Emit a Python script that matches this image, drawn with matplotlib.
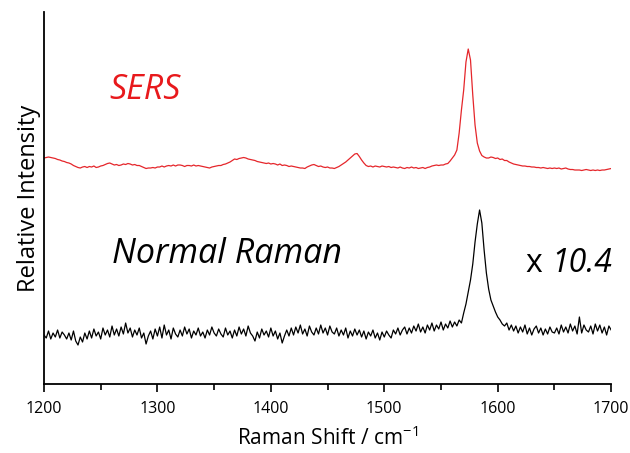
import numpy as np
import matplotlib.pyplot as plt

# Raman shift axis (cm-1), 2 cm-1 steps
shift = np.arange(1200, 1701, 2)

# SERS spectrum (arb. units)
sers = [
    226, 226.5, 227, 226.5, 226, 225.5, 224.5, 224, 223, 222.5,
    221.5, 221, 220, 218.5, 217.5, 216.5, 216, 217, 217.5, 216.5,
    217.5, 217, 218, 216.5, 217, 218, 218.5, 219.5, 220.5, 221,
    220, 219, 219.5, 218.5, 219, 220, 219.5, 220.5, 220, 219,
    219.5, 218.5, 218.5, 217.5, 216.5, 215.5, 216, 216, 216.5, 216,
    217, 217, 218, 217, 218, 218.5, 218, 219, 218, 219,
    219, 218.5, 217.5, 218.5, 218.5, 218, 219, 218, 218.5, 218,
    217.5, 217, 216.5, 216, 217, 217.5, 218, 218.5, 218.5, 219.5,
    220, 221, 222, 223.5, 225, 224.5, 225.5, 226, 226.5, 226,
    225, 224.5, 224, 223.5, 222.5, 222, 221.5, 221, 220.5, 221,
    220, 220.5, 220, 219, 220, 218.5, 219, 218.5, 217.5, 218,
    217.5, 217, 216.5, 216, 216, 215.5, 217, 218, 219, 219.5,
    218.5, 217.5, 218, 217, 216.5, 217, 216, 216, 215.5, 216.5,
    217.5, 219, 220.5, 222, 224, 226, 228, 230, 230.5, 227.5,
    224, 221, 218.5, 217.5, 218, 217, 218, 217.5, 217, 218,
    217.5, 217, 217.5, 216.5, 217, 216.5, 216, 217, 216, 215.5,
    216.5, 216, 217, 216, 216.5, 215.5, 216, 216.5, 215.5, 216.5,
    217, 218, 218.5, 219, 218.5, 219, 219, 220, 220.5, 223,
    226, 229, 234, 251, 274, 294, 322, 335, 324, 289,
    259, 241, 233, 228.5, 227, 226, 226, 227, 226.5, 225.5,
    226, 224.5, 225, 223.5, 223.5, 222, 221, 220, 219.5, 219,
    218.5, 218, 218, 217.5, 217.5, 217, 217, 216.5, 216.5, 216,
    216.5, 216, 215.5, 216, 215.5, 216, 215.5, 216, 215, 215.5,
    216, 215, 214.5, 214.5, 214, 214, 214, 213.5, 214, 214.5,
    214, 213.5, 214, 213.5, 214, 213.5, 214, 214, 214.5, 215,
    215.5,
]

# normal Raman spectrum, multiplied by 10.4 (arb. units)
normal = [
    49, 46, 53, 45, 51, 47, 54, 46, 52, 49,
    45, 51, 44, 53, 43, 39, 47, 42, 51, 45,
    53, 46, 55, 48, 52, 45, 56, 49, 54, 47,
    58, 49, 55, 48, 57, 50, 61, 51, 56, 47,
    54, 49, 56, 46, 51, 40, 48, 53, 45, 55,
    48, 57, 46, 59, 49, 54, 45, 56, 50, 47,
    54, 48, 57, 50, 55, 46, 53, 49, 56, 48,
    52, 46, 54, 49, 57, 51, 48, 55, 50, 47,
    56, 49, 53, 46, 54, 48, 57, 50, 55, 48,
    58, 51, 48, 43, 52, 46, 55, 49, 53, 47,
    56, 48, 53, 45, 51, 41, 48, 54, 48, 56,
    49, 57, 51, 59, 50, 55, 48, 58, 52, 49,
    56, 50, 59, 51, 56, 49, 58, 52, 50, 56,
    48, 54, 49, 56, 46, 53, 48, 55, 49, 54,
    47, 53, 45, 52, 48, 54, 46, 51, 44, 52,
    47, 53, 49, 46, 54, 50, 56, 49, 54, 57,
    50, 56, 51, 58, 53, 60, 52, 57, 51, 59,
    54, 61, 53, 59, 55, 62, 54, 60, 56, 63,
    57, 62, 58, 64, 61, 71, 80, 92, 104, 120,
    142, 160, 174, 161, 134, 111, 95, 84, 78, 72,
    67, 64, 60, 58, 61, 54, 59, 53, 58, 51,
    57, 52, 59, 50, 56, 49, 55, 58, 51, 56,
    49, 55, 50, 57, 52, 51, 56, 50, 59, 52,
    57, 51, 60, 53, 58, 50, 67, 51, 59, 54,
    52, 58, 50, 60, 53, 59, 51, 57, 49, 58,
    54,
]

plt.rcParams['font.family'] = ['Open Sans', 'DejaVu Sans']

fig = plt.figure(figsize=(6.3, 4.53), dpi=100)
ax = fig.add_axes([0.0698, 0.1523, 0.9003, 0.8212])

ax.plot(shift, sers, color='#e5262b', lw=0.9)
ax.plot(shift, normal, color='black', lw=0.9)

ax.set_xlim(1200, 1700)
ax.set_ylim(0, 372)
ax.set_yticks([])
ax.set_xticks([1200, 1300, 1400, 1500, 1600, 1700])
ax.set_xticks([1250, 1350, 1450, 1550, 1650], minor=True)
ax.tick_params(axis='x', which='major', direction='out', length=6, width=1.2,
               labelsize=11.5, pad=6)
ax.tick_params(axis='x', which='minor', direction='out', length=4, width=1.2)
for s in ['top', 'right']:
    ax.spines[s].set_visible(False)
for s in ['left', 'bottom']:
    ax.spines[s].set_linewidth(1.3)

ax.set_xlabel('Raman Shift / cm$^{\\mathregular{-1}}$', fontsize=15, labelpad=7)
ax.set_ylabel('Relative Intensity', fontsize=17, labelpad=2)

ax.text(1258, 294, 'SERS', color='#e8191c', fontsize=24.5, style='italic',
        ha='left', va='center')
ax.text(1260, 130, 'Normal Raman', color='black', fontsize=24.5, style='italic',
        ha='left', va='center')
ax.text(1647, 121, 'x ', color='black', fontsize=23, ha='right', va='center')
ax.text(1647, 121, '10.4', color='black', fontsize=23, style='italic',
        ha='left', va='center')

fig.savefig('out.png', dpi=100)
plt.close(fig)
